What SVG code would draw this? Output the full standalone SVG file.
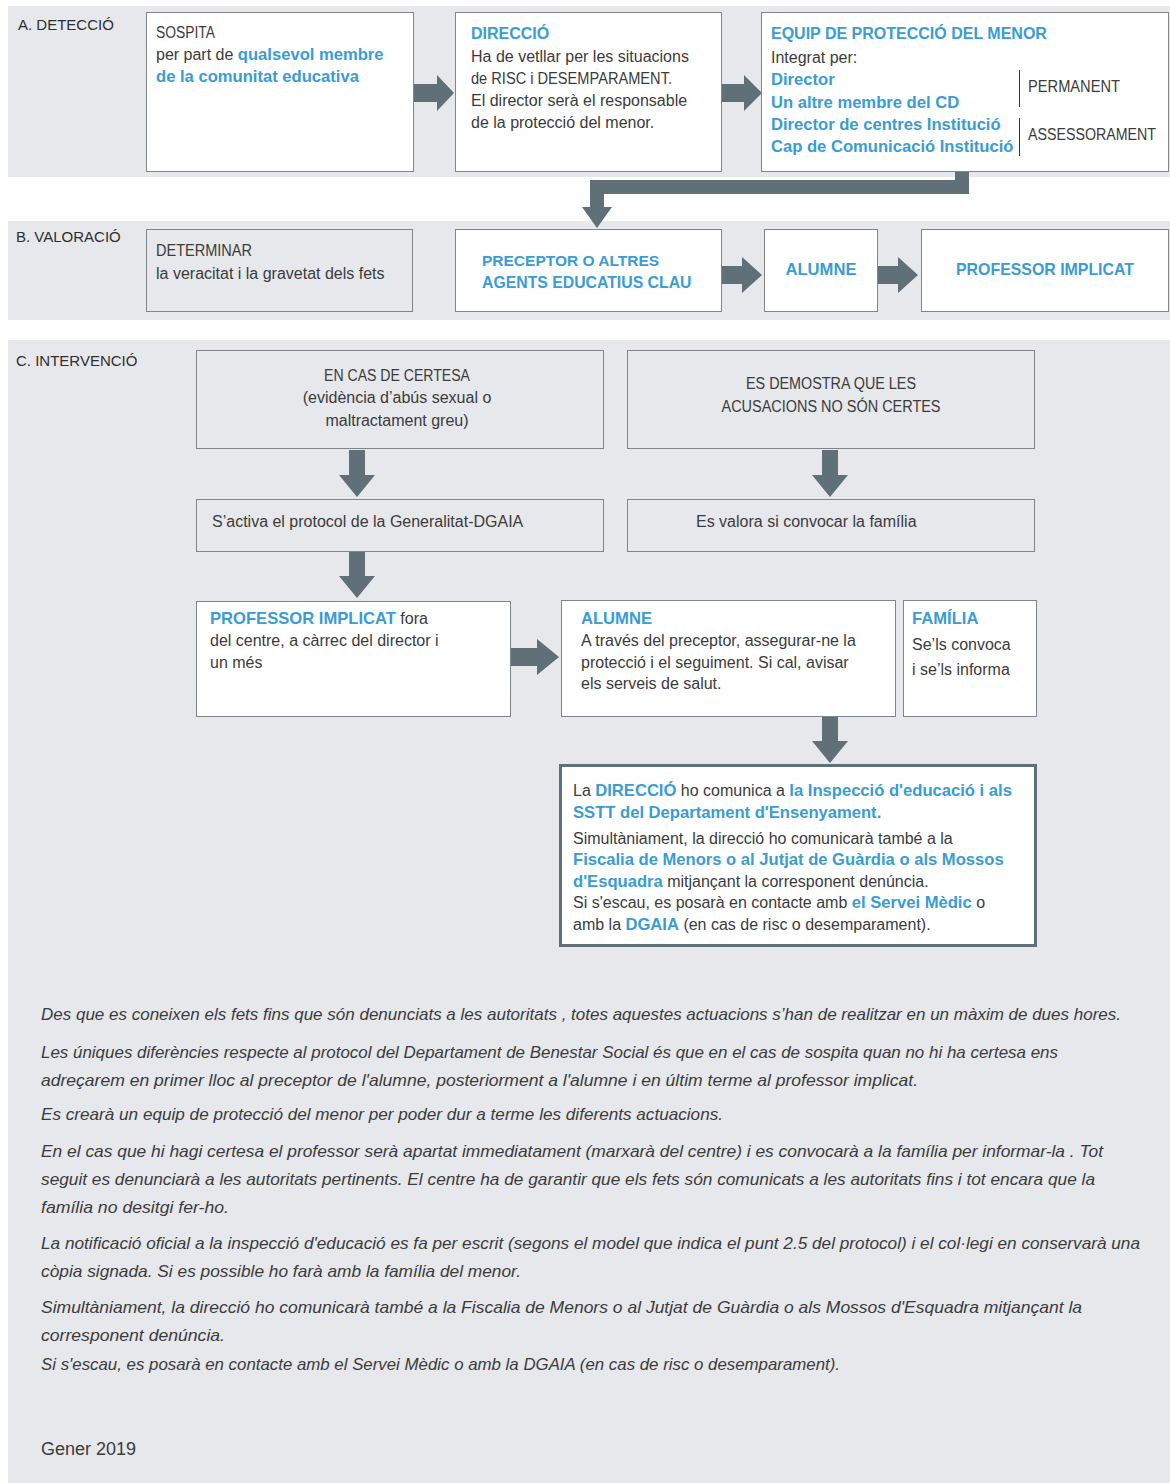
<svg xmlns="http://www.w3.org/2000/svg" width="1170" height="1483" viewBox="0 0 1170 1483">
<style>
text{font-family:"Liberation Sans",Arial,sans-serif;font-size:16px;fill:#3b3b3b}
.sec{font-size:15px;fill:#2e2e2e}
.b{font-weight:bold;fill:#3a9cd2;font-size:16.6px}
.kb{font-size:16px}
.bg{fill:#e6e8eb}
.box{fill:#ffffff;stroke:#7f8589;stroke-width:1}
.gbox{fill:#e6e8eb;stroke:#7f8589;stroke-width:1}
.fbox{fill:#ffffff;stroke:#5f7079;stroke-width:3}
.arr{fill:#5f7079}
.it{font-style:italic;font-size:16.5px;fill:#3b3b3b}
.c{text-anchor:middle}
.vl{stroke:#333;stroke-width:1}
</style>
<rect width="1170" height="1483" fill="#ffffff"/>
<rect class="bg" x="8" y="6" width="1162" height="171"/>
<rect class="bg" x="8" y="221" width="1162" height="99"/>
<rect class="bg" x="8" y="340" width="1162" height="1143"/>
<text class="sec" x="18" y="30">A. DETECCIÓ</text>
<text class="sec" x="16" y="242">B. VALORACIÓ</text>
<text class="sec" x="16" y="366">C. INTERVENCIÓ</text>

<g id="connectors">
<polygon class="arr" points="414,84 437,84 437,75 454,93 437,111 437,102 414,102"/>
<polygon class="arr" points="722,84 744,84 744,75 762,93 744,111 744,102 722,102"/>
<polygon class="arr" points="955,171 969,171 969,194 604,194 604,207 612,207 597,228 582,207 590,207 590,180 955,180"/>
<polygon class="arr" points="722,266 742,266 742,257 762,275 742,293 742,284 722,284"/>
<polygon class="arr" points="878,266 898,266 898,257 918,275 898,293 898,284 878,284"/>
<polygon class="arr" points="349,450 365,450 365,475 375,475 357,497 339,475 349,475"/>
<polygon class="arr" points="822,450 838,450 838,475 848,475 830,497 812,475 822,475"/>
<polygon class="arr" points="349,552 365,552 365,576 375,576 357,598 339,576 349,576"/>
<polygon class="arr" points="511,648 537,648 537,639 559,657 537,675 537,666 511,666"/>
<polygon class="arr" points="822,717 838,717 838,741 848,741 830,763 812,741 822,741"/>
</g>

<g id="sospita">
<rect class="box" x="146.5" y="12.5" width="267" height="159"/>
<text x="156" y="38" textLength="59" lengthAdjust="spacingAndGlyphs">SOSPITA</text>
<text x="156" y="60">per part de <tspan class="b">qualsevol membre</tspan></text>
<text x="156" y="82" class="b">de la comunitat educativa</text>
</g>

<g id="direccio">
<rect class="box" x="455.5" y="12.5" width="266" height="159"/>
<text x="471" y="39" class="b kb">DIRECCIÓ</text>
<text x="471" y="62">Ha de vetllar per les situacions</text>
<text x="471" y="84" textLength="201" lengthAdjust="spacingAndGlyphs">de RISC i DESEMPARAMENT.</text>
<text x="471" y="106">El director serà el responsable</text>
<text x="471" y="128">de la protecció del menor.</text>
</g>

<g id="equip">
<rect class="box" x="761.5" y="12.5" width="407" height="159"/>
<text x="771" y="39" class="b kb">EQUIP DE PROTECCIÓ DEL MENOR</text>
<text x="771" y="63">Integrat per:</text>
<text x="771" y="85" class="b">Director</text>
<text x="771" y="108" class="b">Un altre membre del CD</text>
<text x="771" y="130" class="b">Director de centres Institució</text>
<text x="771" y="152" class="b">Cap de Comunicació Institució</text>
<line class="vl" x1="1019.5" y1="70" x2="1019.5" y2="107"/>
<line class="vl" x1="1019.5" y1="118" x2="1019.5" y2="156"/>
<text x="1028" y="92" textLength="92" lengthAdjust="spacingAndGlyphs">PERMANENT</text>
<text x="1028" y="140" textLength="128" lengthAdjust="spacingAndGlyphs">ASSESSORAMENT</text>
</g>

<g id="determinar">
<rect class="gbox" x="146.5" y="229.5" width="266" height="82"/>
<text x="156" y="256" textLength="96" lengthAdjust="spacingAndGlyphs">DETERMINAR</text>
<text x="156" y="279">la veracitat i la gravetat dels fets</text>
</g>

<g id="preceptor">
<rect class="box" x="455.5" y="229.5" width="266" height="82"/>
<text x="482" y="266" class="b" style="font-size:15.5px">PRECEPTOR O ALTRES</text>
<text x="482" y="288" class="b" style="font-size:15.8px">AGENTS EDUCATIUS CLAU</text>
</g>

<g id="alumne-b">
<rect class="box" x="764.5" y="229.5" width="113" height="82"/>
<text x="821" y="275" class="b c">ALUMNE</text>
</g>

<g id="professor-b">
<rect class="box" x="921.5" y="229.5" width="247" height="82"/>
<text x="1045" y="275" class="b c" textLength="178" lengthAdjust="spacingAndGlyphs">PROFESSOR IMPLICAT</text>
</g>

<g id="certesa">
<rect class="gbox" x="196.5" y="350.5" width="407" height="98"/>
<text x="397" y="381" class="c" textLength="146" lengthAdjust="spacingAndGlyphs">EN CAS DE CERTESA</text>
<text x="397" y="403" class="c">(evidència d’abús sexual o</text>
<text x="397" y="426" class="c">maltractament greu)</text>
</g>

<g id="no-certes">
<rect class="gbox" x="627.5" y="350.5" width="407" height="98"/>
<text x="831" y="389" class="c" textLength="170" lengthAdjust="spacingAndGlyphs">ES DEMOSTRA QUE LES</text>
<text x="831" y="412" class="c" textLength="219" lengthAdjust="spacingAndGlyphs">ACUSACIONS NO SÓN CERTES</text>
</g>

<g id="protocol">
<rect class="gbox" x="196.5" y="499.5" width="407" height="52"/>
<text x="212" y="527">S’activa el protocol de la Generalitat-DGAIA</text>
</g>

<g id="valora">
<rect class="gbox" x="627.5" y="499.5" width="407" height="52"/>
<text x="696" y="527">Es valora si convocar la família</text>
</g>

<g id="professor-c">
<rect class="box" x="196.5" y="601.5" width="314" height="115"/>
<text x="210" y="624"><tspan class="b">PROFESSOR IMPLICAT</tspan> fora</text>
<text x="210" y="646">del centre, a càrrec del director i</text>
<text x="210" y="668">un més</text>
</g>

<g id="alumne-c">
<rect class="box" x="561.5" y="600.5" width="334" height="116"/>
<text x="581" y="624" class="b">ALUMNE</text>
<text x="581" y="646">A través del preceptor, assegurar-ne la</text>
<text x="581" y="668">protecció i el seguiment. Si cal, avisar</text>
<text x="581" y="689">els serveis de salut.</text>
</g>

<g id="familia">
<rect class="box" x="903.5" y="600.5" width="133" height="116"/>
<text x="912" y="624" class="b">FAMÍLIA</text>
<text x="912" y="650">Se’ls convoca</text>
<text x="912" y="675">i se’ls informa</text>
</g>

<g id="comunica">
<rect class="fbox" x="560.5" y="765.5" width="475" height="180"/>
<text x="573" y="796">La <tspan class="b">DIRECCIÓ</tspan> ho comunica a <tspan class="b">la Inspecció d'educació i als</tspan></text>
<text x="573" y="818" class="b">SSTT del Departament d'Ensenyament.</text>
<text x="573" y="844">Simultàniament, la direcció ho comunicarà també a la</text>
<text x="573" y="865" class="b">Fiscalia de Menors o al Jutjat de Guàrdia o als Mossos</text>
<text x="573" y="887"><tspan class="b">d'Esquadra</tspan> mitjançant la corresponent denúncia.</text>
<text x="573" y="908">Si s'escau, es posarà en contacte amb <tspan class="b">el Servei Mèdic</tspan> o</text>
<text x="573" y="930">amb la <tspan class="b">DGAIA</tspan> (en cas de risc o desemparament).</text>
</g>

<g id="notes">
<text class="it" x="41" y="1020" textLength="1080" lengthAdjust="spacingAndGlyphs">Des que es coneixen els fets fins que són denunciats a les autoritats , totes aquestes actuacions s’han de realitzar en un màxim de dues hores.</text>
<text class="it" x="41" y="1058" textLength="1017" lengthAdjust="spacingAndGlyphs">Les úniques diferències respecte al protocol del Departament de Benestar Social és que en el cas de sospita quan no hi ha certesa ens</text>
<text class="it" x="41" y="1086" textLength="877" lengthAdjust="spacingAndGlyphs">adreçarem en primer lloc al preceptor de l'alumne, posteriorment a l'alumne i en últim terme al professor implicat.</text>
<text class="it" x="41" y="1120" textLength="682" lengthAdjust="spacingAndGlyphs">Es crearà un equip de protecció del menor per poder dur a terme les diferents actuacions.</text>
<text class="it" x="41" y="1157" textLength="1062" lengthAdjust="spacingAndGlyphs">En el cas que hi hagi certesa el professor serà apartat immediatament (marxarà del centre) i es convocarà a la família per informar-la . Tot</text>
<text class="it" x="41" y="1185" textLength="1054" lengthAdjust="spacingAndGlyphs">seguit es denunciarà a les autoritats pertinents. El centre ha de garantir que els fets són comunicats a les autoritats fins i tot encara que la</text>
<text class="it" x="41" y="1213" textLength="188" lengthAdjust="spacingAndGlyphs">família no desitgi fer-ho.</text>
<text class="it" x="41" y="1249" textLength="1099" lengthAdjust="spacingAndGlyphs">La notificació oficial a la inspecció d'educació es fa per escrit (segons el model que indica el punt 2.5 del protocol) i el col·legi en conservarà una</text>
<text class="it" x="41" y="1277" textLength="480" lengthAdjust="spacingAndGlyphs">còpia signada. Si es possible ho farà amb la família del menor.</text>
<text class="it" x="41" y="1313" textLength="1041" lengthAdjust="spacingAndGlyphs">Simultàniament, la direcció ho comunicarà també a la Fiscalia de Menors o al Jutjat de Guàrdia o als Mossos d'Esquadra mitjançant la</text>
<text class="it" x="41" y="1341" textLength="184" lengthAdjust="spacingAndGlyphs">corresponent denúncia.</text>
<text class="it" x="41" y="1370" textLength="799" lengthAdjust="spacingAndGlyphs">Si s'escau, es posarà en contacte amb el Servei Mèdic o amb la DGAIA (en cas de risc o desemparament).</text>
<text x="41" y="1455" style="font-size:18px">Gener 2019</text>
</g>
</svg>
